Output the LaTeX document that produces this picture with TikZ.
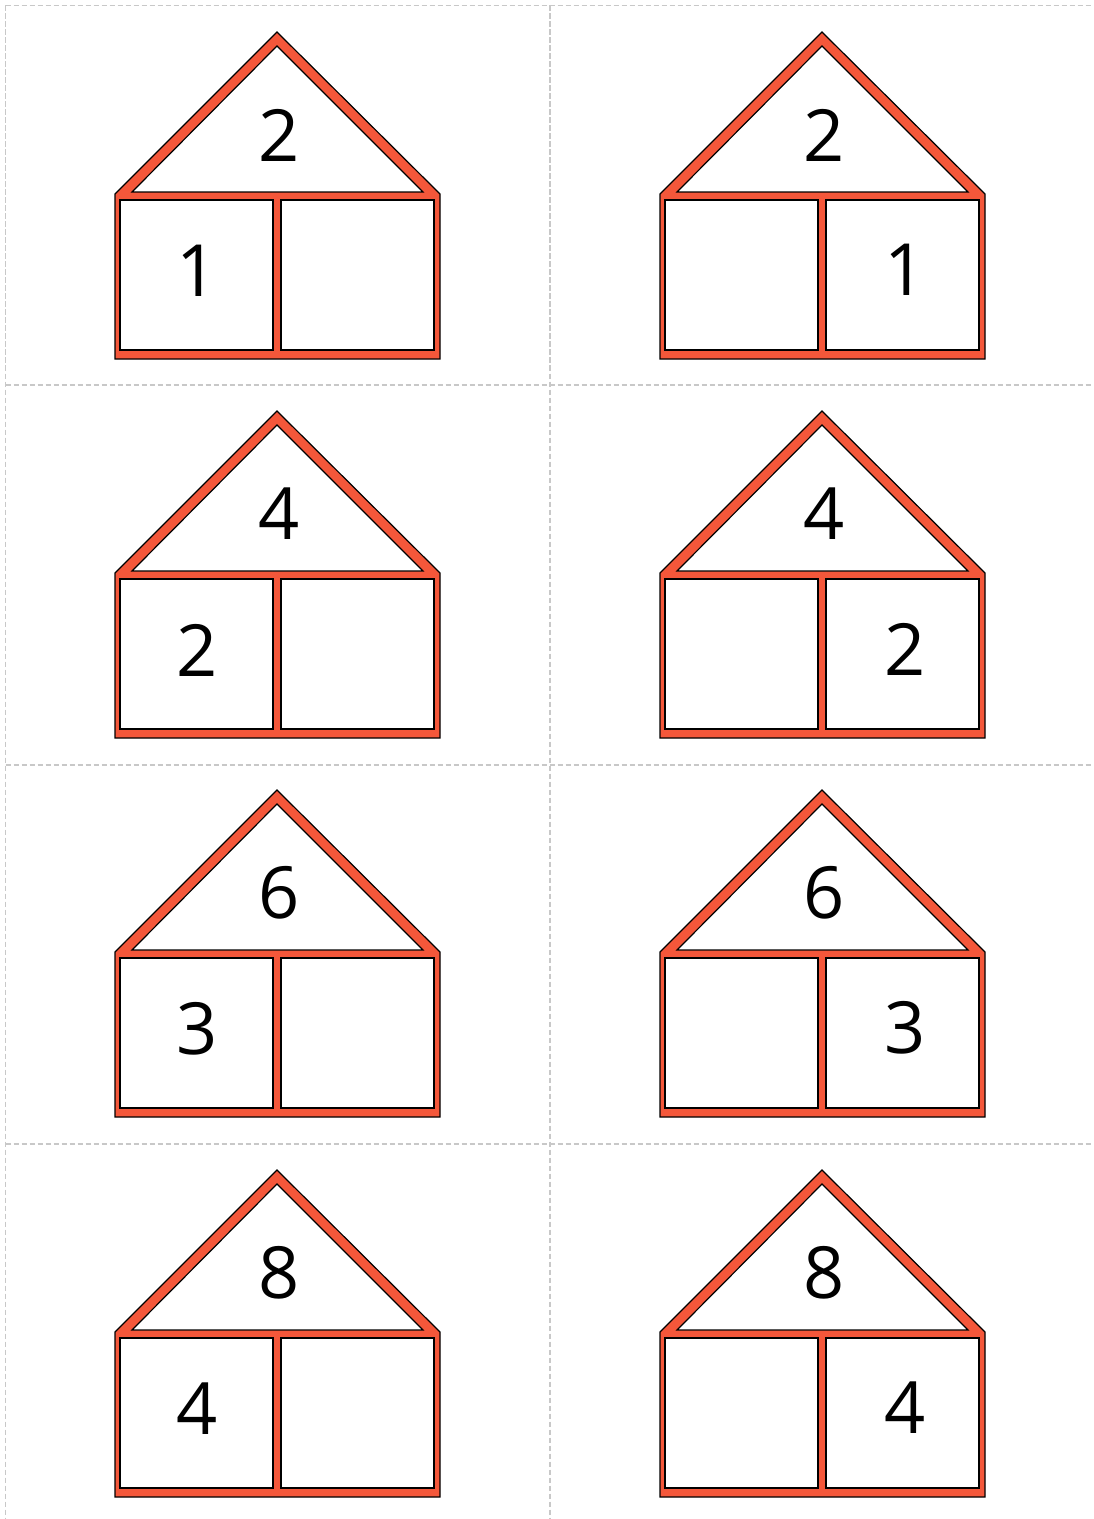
\documentclass[tikz,border=0pt]{standalone}
\usepackage{fontspec}
\setmainfont{Open Sans}
\definecolor{roofred}{HTML}{F4573A}
\definecolor{gridgray}{HTML}{C8C8C8}
\tikzset{
  gridline/.style={draw=gridgray, line width=1pt, dash pattern=on 4pt off 2pt},
  band/.style={fill=roofred, draw=black, line width=0.9pt, line join=miter},
  cell/.style={fill=white, draw=black, line width=0.9pt},
  digit/.style={font=\fontsize{54}{60}\selectfont, inner sep=0pt, text=black}
}
\newcommand\numhouse[6]{%
  \begin{scope}[shift={(#1,#2)}]
    \path[band] (0,0) -- (163,162) -- (163,327) -- (-162,327) -- (-162,162) -- cycle;
    \path[cell] (0,14) -- (146,160) -- (-145,160) -- cycle;
    \path[cell] (-157,168) rectangle (-4,318);
    \path[cell] (4,168) rectangle (157,318);
    \node[digit] (#6top) at (2,103) {#3};
    \node[digit] (#6l) at (-80,239) {#4};
    \node[digit] (#6r) at (83,238) {#5};
  \end{scope}}
\begin{document}
\begin{tikzpicture}[x=0.75pt,y=-0.75pt]
\useasboundingbox (0,0) rectangle (1093,1519);
\fill[white] (0,0) rectangle (1093,1519);
% grid
\draw[gridline] (5.5,5.5) -- (1093,5.5);
\draw[gridline] (5.5,385) -- (1093,385);
\draw[gridline] (5.5,765) -- (1093,765);
\draw[gridline] (5.5,1144) -- (1093,1144);
\draw[gridline] (5.5,5.5) -- (5.5,1519);
\draw[gridline] (550,5.5) -- (550,1519);
% houses
\numhouse{277}{32}{2}{1}{}{ha}
\numhouse{822}{32}{2}{}{1}{hb}
\numhouse{277}{411}{4}{2}{}{hc}
\numhouse{822}{411}{4}{}{2}{hd}
\numhouse{277}{790}{6}{3}{}{he}
\numhouse{822}{790}{6}{}{3}{hf}
\numhouse{277}{1170}{8}{4}{}{hg}
\numhouse{822}{1170}{8}{}{4}{hh}
\end{tikzpicture}
\end{document}
